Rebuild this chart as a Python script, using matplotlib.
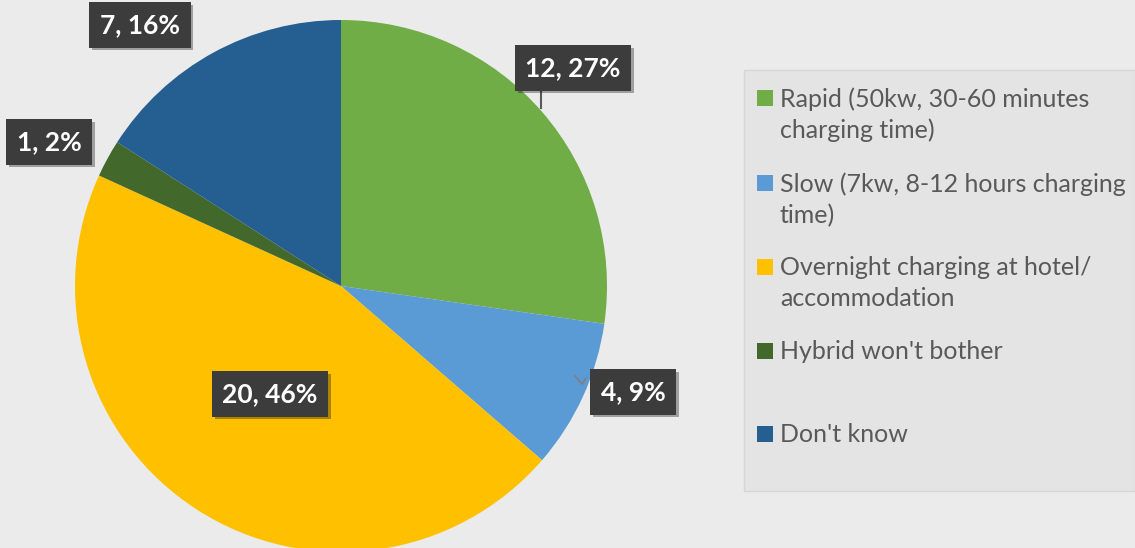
import matplotlib
matplotlib.use("Agg")
import matplotlib.pyplot as plt
from matplotlib.patches import Rectangle
import matplotlib.patheffects as pe

categories = ["Rapid (50kw, 30-60 minutes\ncharging time)",
              "Slow (7kw, 8-12 hours charging\ntime)",
              "Overnight charging at hotel/\naccommodation",
              "Hybrid won't bother",
              "Don't know"]
values = [12, 4, 20, 1, 7]
percents = [27, 9, 46, 2, 16]
colors = ["#70AD47", "#5B9BD5", "#FFC000", "#43682B", "#255E91"]

W, H = 1135, 548
fig = plt.figure(figsize=(W / 100, H / 100), dpi=100)
fig.patch.set_facecolor("#ebebeb")
ax = fig.add_axes([0, 0, 1, 1])
ax.set_xlim(0, W)
ax.set_ylim(0, H)
ax.set_aspect("equal")
ax.axis("off")

def py(y):
    return H - y

cx, cy, r = 341, 286, 266
ax.pie(values, colors=colors, startangle=90, counterclock=False,
       center=(cx, py(cy)), radius=r, frame=True,
       wedgeprops=dict(linewidth=0))
ax.set_xlim(0, W)
ax.set_ylim(0, H)
ax.axis("off")

label_pos = [(573, 68), (633, 392), (270, 394), (49, 142), (140, 25)]
for v, p, (lx, ly) in zip(values, percents, label_pos):
    t = ax.text(lx, py(ly), f"{v}, {p}%", ha="center", va="center",
                color="white", fontsize=19, fontweight="bold", family="Lato",
                bbox=dict(boxstyle="square,pad=0.4", facecolor="#3c3c3c", edgecolor="none"))
    t.get_bbox_patch().set_path_effects([pe.SimplePatchShadow(offset=(2, -2), alpha=0.35),
                                         pe.Normal()])

# leader lines
ax.plot([541, 541], [py(91), py(108)], color="#595959", lw=1.5)
ax.plot([575, 582, 586], [py(376), py(384), py(378)], color="#7f7f7f", lw=1.2)

# legend box
ax.add_patch(Rectangle((744, py(491)), W - 744, 491 - 70, facecolor="#e4e4e4",
                       edgecolor="#d6d6d6", lw=1))
item_y = [98, 183, 267, 351, 434]
for lab, c, y in zip(categories, colors, item_y):
    ax.add_patch(Rectangle((757, py(y) - 8), 16, 16, facecolor=c, edgecolor="none"))
    ax.text(780, py(y) + 11, lab, ha="left", va="top", fontsize=18, family="Lato",
            color="#595959", linespacing=1.42)

fig.savefig("out.png", dpi=100, facecolor=fig.get_facecolor())
